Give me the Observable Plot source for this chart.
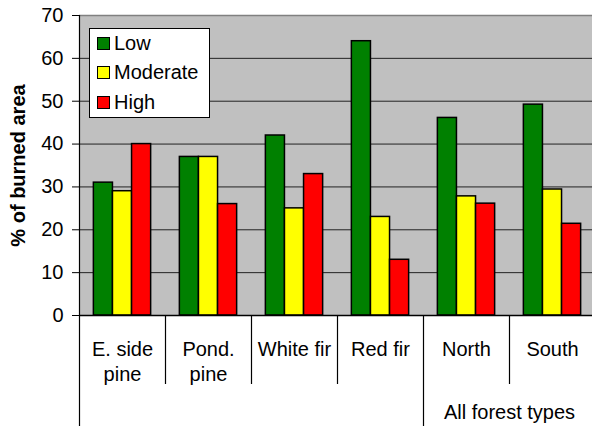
<!DOCTYPE html>
<html>
<head>
<meta charset="utf-8">
<script src="https://cdn.jsdelivr.net/npm/d3@7"></script>
<script src="https://cdn.jsdelivr.net/npm/@observablehq/plot@0.6"></script>
<style>
  html, body { margin: 0; padding: 0; background: #fff; overflow: hidden; }
  #wrap { position: relative; width: 592px; height: 426px; font-family: "Liberation Sans", Arial, sans-serif; }
  .legend { position: absolute; left: 89px; top: 28px; width: 121px; height: 90px; box-sizing: border-box;
            border: 1px solid #000; background: #fff; font-size: 20px; color: #000; }
  .legend .row { display: flex; align-items: center; height: 29.3px; padding-left: 7px; }
  .legend .sw { width: 13px; height: 13px; box-sizing: border-box; border: 1px solid #000; margin-right: 4px; }
</style>
</head>
<body>
<div id="wrap"></div>
<script>
// ---- data ----
const categories = ["E. side pine", "Pond. pine", "White fir", "Red fir", "North", "South"];
const categoryLabels = ["E. side\npine", "Pond.\npine", "White fir", "Red fir", "North", "South"];
const series = ["Low", "Moderate", "High"];
const seriesColors = ["#008000", "#ffff00", "#ff0000"];
const low = [31, 37, 42, 64, 46.1, 49.2];
const moderate = [29, 37, 25, 23, 27.8, 29.4];
const high = [40, 26, 33, 13, 26.1, 21.4];
const yTicks = [0, 10, 20, 30, 40, 50, 60, 70];
const yLabel = "% of burned area";
const groupLabel = "All forest types";
const groupStart = "North";

// ---- layout ----
const W = 592, H = 426;
const plotLeft = 79, plotRight = 595, plotTop = 15, plotBase = 315;
const band = (plotRight - plotLeft) / categories.length;
const barW = band * 0.222;
const pad0 = (band - series.length * barW) / 2;

const values = [low, moderate, high];
const data = categories.flatMap((c, i) => series.map((s, j) => ({category: c, series: s, value: values[j][i]})));
const yMax = yTicks[yTicks.length - 1];

const barMarks = series.map((s, j) => Plot.barY(data.filter(d => d.series === s), {
  x: "category", y: "value", fill: seriesColors[j], stroke: "#000", strokeWidth: 1.5,
  insetLeft: pad0 + j * barW, insetRight: band - pad0 - (j + 1) * barW
}));

const chart = Plot.plot({
  width: W, height: H,
  marginLeft: plotLeft, marginRight: 0, marginTop: 0, marginBottom: 0,
  style: {fontFamily: '"Liberation Sans", Arial, sans-serif', fontSize: "20px", color: "#000", background: "#fff", overflow: "hidden"},
  x: {domain: categories, range: [plotLeft, plotRight], padding: 0, round: false, axis: null},
  y: {domain: [0, yMax], range: [plotBase, plotTop], ticks: yTicks, tickSize: 7, tickPadding: 9, label: null},
  marks: [
    Plot.barY(categories, {x: d => d, y1: 0, y2: yMax, fill: "#c0c0c0"}),
    Plot.ruleY([yMax], {stroke: "#808080", strokeWidth: 1.5}),
    Plot.ruleY(yTicks.slice(1, -1), {stroke: "#222", strokeWidth: 1}),
    ...barMarks,
    Plot.ruleY([0], {stroke: "#000", strokeWidth: 1.5}),
    Plot.ruleX(categories.filter((c, i) => i > 0 && c !== groupStart), {x: d => d, dx: -band / 2, insetTop: plotBase, insetBottom: H - 384, stroke: "#000", strokeWidth: 1.2}),
    Plot.ruleX([groupStart], {x: d => d, dx: -band / 2, insetTop: plotBase, insetBottom: 0, stroke: "#000", strokeWidth: 1.2}),
    Plot.ruleX([categories[0]], {x: d => d, dx: -band / 2, insetTop: plotTop, insetBottom: 0, stroke: "#000", strokeWidth: 1.2}),
    Plot.text(categories, {x: d => d, text: (d, i) => categoryLabels[i], frameAnchor: "top", dy: 338, lineAnchor: "top", lineHeight: 1.25, fontSize: 20, fill: "#000"}),
    Plot.text([groupStart], {x: d => d, text: () => groupLabel, dx: band / 2, frameAnchor: "top", dy: 404, lineAnchor: "top", fontSize: 20, fill: "#000"}),
    Plot.text([yLabel], {frameAnchor: "left", y: () => yMax / 2, rotate: -90, dx: -69, textAnchor: "middle", lineAnchor: "top", fontWeight: "bold", fontSize: 20, fill: "#000"})
  ]
});

const wrap = document.getElementById("wrap");
wrap.appendChild(chart);

const legend = document.createElement("div");
legend.className = "legend";
series.forEach((s, j) => {
  const row = document.createElement("div");
  row.className = "row";
  const sw = document.createElement("span");
  sw.className = "sw";
  sw.style.background = seriesColors[j];
  const t = document.createElement("span");
  t.textContent = s;
  row.appendChild(sw);
  row.appendChild(t);
  legend.appendChild(row);
});
wrap.appendChild(legend);
</script>
</body>
</html>
